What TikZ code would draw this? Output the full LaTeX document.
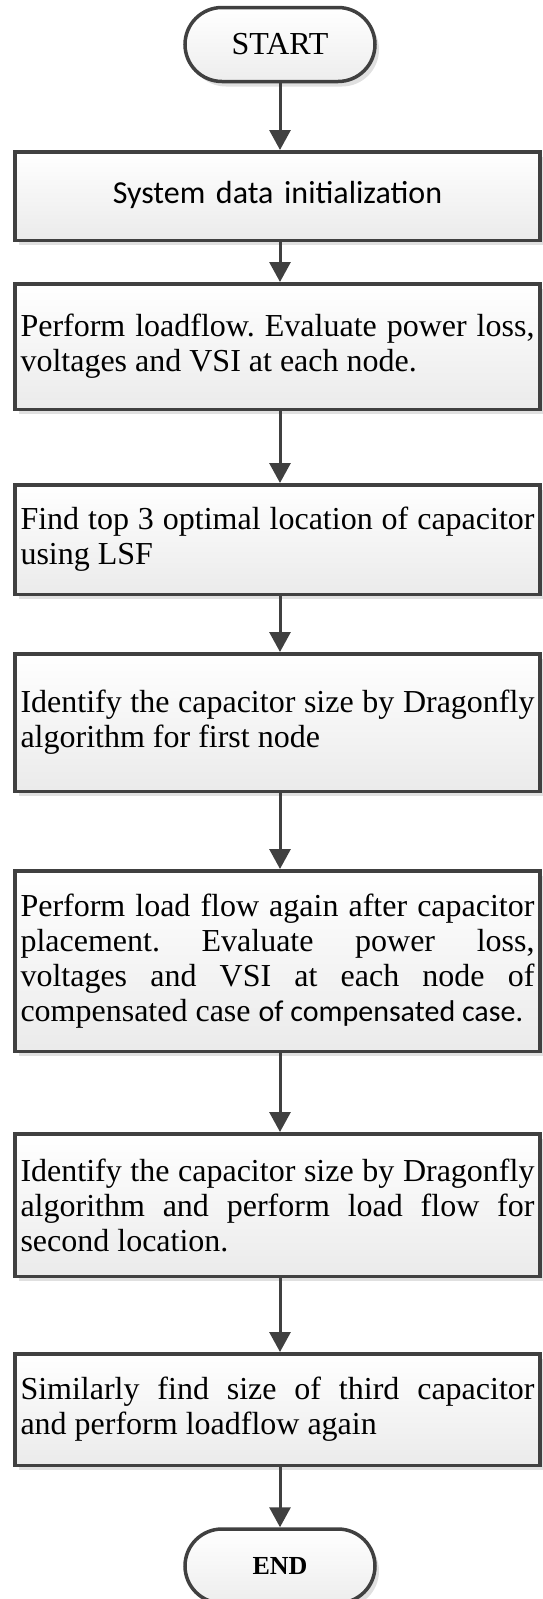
\documentclass[tikz,border=0pt]{standalone}
\usepackage{fontspec}
\setmainfont{Liberation Serif}
\newfontfamily\calibri{Carlito}
\usetikzlibrary{arrows.meta,shadows}
\definecolor{lineGray}{HTML}{404040}
\begin{document}
\begin{tikzpicture}[x=1pt,y=-1pt]
\fontsize{32}{35}\selectfont
\hyphenpenalty=10000
\frenchspacing
  \tikzstyle{terminal}=[rectangle,rounded corners=37pt,draw=lineGray,line width=3.5pt,top color=white,bottom color=black!7,minimum width=190pt,minimum height=74pt,drop shadow={shadow xshift=4pt,shadow yshift=-5pt,fill=black!12,opacity=1}]
  \tikzstyle{process}=[rectangle,draw=lineGray,line width=3.5pt,top color=white,bottom color=black!8,minimum width=525pt,text width=514pt,align=justify,inner sep=0pt,drop shadow={shadow xshift=4pt,shadow yshift=-5pt,fill=black!12,opacity=1}]
  \tikzstyle{flow}=[draw=lineGray,line width=3pt,-{Triangle[length=20pt,width=21pt]}]

  \useasboundingbox (0,0) rectangle (543,1599);

  \node[terminal](start) at (280,44.5) {START};
  \node[process,minimum height=88.5pt,align=center,font=\calibri](init) at (277.5,196) {\raisebox{8pt}{System data initialization}};
  \draw[flow] (start) -- (start |- init.north);

  \node[process,minimum height=125.5pt](loadflow) at (277.5,346.5) {Perform loadflow. Evaluate power loss, voltages and VSI at each node.};
  \draw[flow] (start |- init.south) -- (start |- loadflow.north);

  \node[process,minimum height=109.5pt](location) at (277.5,539.5) {Find top 3 optimal location of capacitor using LSF};
  \draw[flow] (start |- loadflow.south) -- (start |- location.north);

  \node[process,minimum height=137.5pt](firstsize) at (277.5,722.5) {Identify the capacitor size by Dragonfly algorithm for first node};
  \draw[flow] (start |- location.south) -- (start |- firstsize.north);

  \node[process,minimum height=180.5pt](reflow) at (277.5,961) {Perform load flow again after capacitor\linebreak placement. Evaluate power loss,\linebreak voltages and VSI at each node of\linebreak compensated case {\calibri\fontsize{30}{35}\selectfont of compensated case.}};
  \draw[flow] (start |- firstsize.south) -- (start |- reflow.north);

  \node[process,minimum height=142.5pt](secondsize) at (277.5,1205) {Identify the capacitor size by Dragonfly\linebreak algorithm and perform load flow for\linebreak second location.};
  \draw[flow] (start |- reflow.south) -- (start |- secondsize.north);

  \node[process,minimum height=111.5pt](thirdsize) at (277.5,1409.5) {Similarly find size of third capacitor\linebreak and perform loadflow again};
  \draw[flow] (start |- secondsize.south) -- (start |- thirdsize.north);

  \node[terminal,font=\fontsize{26}{30}\selectfont\bfseries](finish) at (280,1566) {END};
  \draw[flow] (start |- thirdsize.south) -- (finish);

\end{tikzpicture}
\end{document}
